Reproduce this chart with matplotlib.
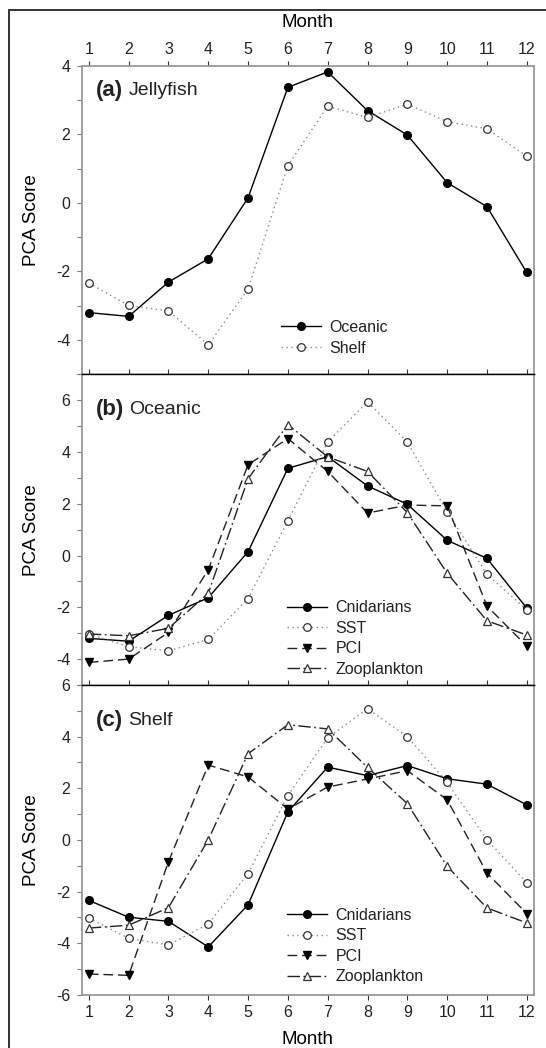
import matplotlib
matplotlib.use("Agg")
import matplotlib.pyplot as plt
from matplotlib.patches import Rectangle
from matplotlib.ticker import MultipleLocator

plt.rcParams['font.family'] = ['Liberation Sans', 'DejaVu Sans']
plt.rcParams['text.color'] = '#222222'
plt.rcParams['axes.unicode_minus'] = False

months = list(range(1, 13))

# (a) Jellyfish
jelly_oceanic = [-3.20, -3.31, -2.31, -1.63, 0.15, 3.37, 3.82, 2.69, 1.98, 0.59, -0.11, -2.03]
jelly_shelf = [-2.34, -2.99, -3.15, -4.14, -2.51, 1.09, 2.82, 2.49, 2.88, 2.37, 2.16, 1.36]

# (b) Oceanic
oce_sst = [-3.03, -3.52, -3.68, -3.24, -1.66, 1.34, 4.39, 5.94, 4.39, 1.69, -0.72, -2.10]
oce_pci = [-4.13, -4.00, -2.97, -0.55, 3.51, 4.52, 3.25, 1.64, 1.95, 1.92, -1.95, -3.50]
oce_zoo = [-3.03, -3.10, -2.81, -1.46, 2.97, 5.06, 3.81, 3.25, 1.66, -0.68, -2.52, -3.07]

# (c) Shelf
shelf_sst = [-3.02, -3.81, -4.06, -3.25, -1.30, 1.72, 3.96, 5.08, 4.00, 2.23, 0.01, -1.66]
shelf_pci = [-5.19, -5.24, -0.84, 2.90, 2.44, 1.20, 2.05, 2.36, 2.68, 1.56, -1.28, -2.85]
shelf_zoo = [-3.41, -3.30, -2.62, 0.01, 3.34, 4.46, 4.30, 2.81, 1.41, -1.02, -2.63, -3.21]

solid = dict(color='black', lw=1.0, marker='o', ms=5.5, mfc='black', mec='black')
dotted = dict(color='#888888', lw=1.0, ls=(0, (1, 2.5)), marker='o', ms=5.5, mfc='white', mec='#333333', mew=0.9)
dashed = dict(color='#222222', lw=1.0, ls=(0, (7, 3.5)), marker='v', ms=5.5, mfc='black', mec='black')
dashdot = dict(color='#222222', lw=1.0, ls=(0, (9, 2.5, 1.2, 2.5)), marker='^', ms=5.5, mfc='white', mec='#333333', mew=0.9)

fig = plt.figure(figsize=(5.46, 10.48), dpi=100)
left, width = 0.1496, 0.829
ax_a = fig.add_axes([left, 0.6428, width, 0.2945])
ax_b = fig.add_axes([left, 0.3464, width, 0.2964], sharex=ax_a)
ax_c = fig.add_axes([left, 0.0506, width, 0.2958], sharex=ax_a)

ax_a.plot(months, jelly_oceanic, label='Oceanic', **solid)
ax_a.plot(months, jelly_shelf, label='Shelf', **dotted)

ax_b.plot(months, jelly_oceanic, label='Cnidarians', **solid)
ax_b.plot(months, oce_sst, label='SST', **dotted)
ax_b.plot(months, oce_pci, label='PCI', **dashed)
ax_b.plot(months, oce_zoo, label='Zooplankton', **dashdot)

ax_c.plot(months, jelly_shelf, label='Cnidarians', **solid)
ax_c.plot(months, shelf_sst, label='SST', **dotted)
ax_c.plot(months, shelf_pci, label='PCI', **dashed)
ax_c.plot(months, shelf_zoo, label='Zooplankton', **dashdot)

ax_a.set_ylim(-5, 4)
ax_b.set_ylim(-5, 7)
ax_c.set_ylim(-6, 6)
ax_a.set_xlim(0.82, 12.19)
ax_a.set_xticks(months)

gray = '#999999'
for ax in (ax_a, ax_b, ax_c):
    ax.yaxis.set_major_locator(MultipleLocator(2))
    ax.yaxis.set_minor_locator(MultipleLocator(1))
    ax.tick_params(axis='y', which='both', direction='out', length=3.6, width=0.8,
                   color='#777777', labelsize=11.5, pad=4.5, labelcolor='#222222')
    ax.tick_params(axis='x', which='both', direction='out', length=3.3, width=0.8,
                   color='#333333', top=True, bottom=True, labeltop=False, labelbottom=False,
                   labelsize=11.5, labelcolor='#222222')
    ax.set_ylabel('PCA Score', fontsize=13.5)
    ax.yaxis.set_label_coords(-0.092, 0.5)
    for s in ('left', 'right'):
        ax.spines[s].set_color(gray)
        ax.spines[s].set_linewidth(1.3)
    for s in ('top', 'bottom'):
        ax.spines[s].set_color('black')
        ax.spines[s].set_linewidth(1.0)

ax_a.spines['top'].set_color(gray)
ax_a.spines['top'].set_linewidth(1.3)
ax_c.spines['bottom'].set_color(gray)
ax_c.spines['bottom'].set_linewidth(1.3)

ax_a.tick_params(axis='x', labeltop=True, pad=3.0)
ax_c.tick_params(axis='x', labelbottom=True, pad=4.0)
ax_b.set_yticks([-4, -2, 0, 2, 4, 6])
ax_c.set_yticks([-6, -4, -2, 0, 2, 4, 6])

ax_a.xaxis.set_label_position('top')
ax_a.set_xlabel('Month', fontsize=13.5)
ax_a.xaxis.set_label_coords(0.5, 1.124)
ax_c.set_xlabel('Month', fontsize=13.5)
ax_c.xaxis.set_label_coords(0.5, -0.117)


def panel_label(ax, tag, name, y):
    t = ax.text(0.031, y, tag, transform=ax.transAxes, fontsize=16, fontweight='bold', va='center')
    ax.annotate(name, xy=(1, 0.5), xycoords=t, xytext=(4, 0), textcoords='offset points',
                fontsize=14, va='center')


panel_label(ax_a, '(a)', 'Jellyfish', 0.921)
panel_label(ax_b, '(b)', 'Oceanic', 0.888)
panel_label(ax_c, '(c)', 'Shelf', 0.887)

leg_kw = dict(frameon=False, loc='upper left', fontsize=11.5, handlelength=2.5,
              handletextpad=0.55, labelspacing=0.35, borderpad=0, borderaxespad=0)
ax_a.legend(bbox_to_anchor=(0.44, 0.176), **leg_kw)
ax_b.legend(bbox_to_anchor=(0.453, 0.273), **leg_kw)
ax_c.legend(bbox_to_anchor=(0.453, 0.282), **leg_kw)

fig.add_artist(Rectangle((9 / 546, -0.05), 1.0, 1 - 10 / 1048 + 0.05, transform=fig.transFigure,
                         fill=False, edgecolor='#333333', lw=1.4))

fig.savefig('out.png', dpi=100)
